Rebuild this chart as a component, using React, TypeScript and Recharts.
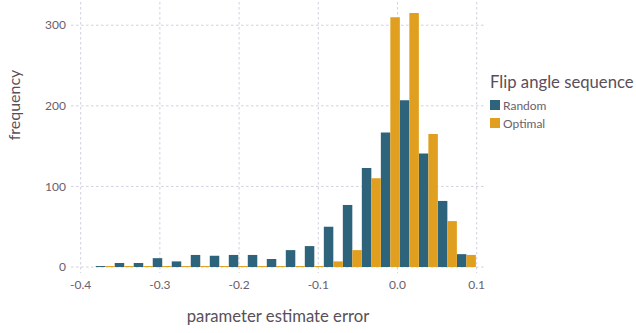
import React from 'react';
import { ComposedChart, Bar, XAxis, YAxis, CartesianGrid } from 'recharts';

const binCenters = [-0.369, -0.345, -0.321, -0.297, -0.273, -0.249, -0.225, -0.201, -0.177, -0.153, -0.129, -0.105, -0.081, -0.057, -0.033, -0.009, 0.015, 0.039, 0.063, 0.087];
const randomCounts = [1, 5, 5, 11, 7, 15, 14, 15, 15, 10, 21, 26, 50, 77, 123, 167, 207, 141, 82, 16];
const optimalCounts = [0, 0, 0, 0, 0, 0, 0, 0, 0, 0, 0, 1, 7, 21, 110, 310, 315, 165, 57, 15];
const xTicks = [-0.4, -0.3, -0.2, -0.1, 0, 0.1];
const yTicks = [0, 100, 200, 300];
const seriesNames = ['Random', 'Optimal'];
const seriesColors = ['#2e637c', '#e09f1e'];

const data = binCenters.map((c, i) => ({ center: c, Random: randomCounts[i], Optimal: optimalCounts[i] }));

const FONT = 'Lato, "Noto Sans", sans-serif';
const TICK_COLOR = '#6c606b';
const LABEL_COLOR = '#5a4f59';

const LegendBox = () => (
  <div style={{ position: 'absolute', left: 490, top: 72, fontFamily: FONT }}>
    <div style={{ fontSize: 16.7, color: LABEL_COLOR, lineHeight: '20px', marginBottom: 4, whiteSpace: 'nowrap' }}>Flip angle sequence</div>
    {seriesNames.map((n, i) => (
      <div key={n} style={{ display: 'flex', alignItems: 'center', height: 18 }}>
        <span style={{ width: 10, height: 10, background: seriesColors[i], display: 'inline-block', marginRight: 3 }} />
        <span style={{ fontSize: 12, color: TICK_COLOR }}>{n}</span>
      </div>
    ))}
  </div>
);

export default function App() {
  return (
    <div style={{ position: 'absolute', left: 0, top: 0, width: 636, height: 333, background: '#fff' }}>
      <ComposedChart width={636} height={333} data={data} margin={{ top: 2, right: 151, left: 0, bottom: 0 }} barGap={0} barCategoryGap={0}>
        <CartesianGrid stroke="#d0d0e0" strokeDasharray="2.5 2.5" syncWithTicks />
        <XAxis
          dataKey="center"
          type="number"
          domain={[-0.4122, 0.1105]}
          allowDataOverflow
          ticks={xTicks}
          tickFormatter={(v: number) => v.toFixed(1)}
          axisLine={false}
          tickLine={false}
          tickSize={0}
          tickMargin={7}
          height={60}
          tick={{ fill: TICK_COLOR, fontSize: 12, fontFamily: FONT }}
          label={{ value: 'parameter estimate error', position: 'insideBottom', offset: 11, fill: LABEL_COLOR, fontSize: 16.7, fontFamily: FONT }}
        />
        <YAxis
          type="number"
          domain={[-7.4, 328.8]}
          allowDataOverflow
          ticks={yTicks}
          axisLine={false}
          tickLine={false}
          tickSize={0}
          tickMargin={5}
          width={71}
          tick={{ fill: TICK_COLOR, fontSize: 12, fontFamily: FONT }}
          label={{
            content: () => (
              <text x={20} y={105} transform="rotate(-90 20 105)" textAnchor="middle" fill={LABEL_COLOR} fontSize={16} fontFamily={FONT}>
                frequency
              </text>
            ),
          }}
        />
        <Bar dataKey="Random" fill={seriesColors[0]} barSize={9.5} minPointSize={1} isAnimationActive={false} />
        <Bar dataKey="Optimal" fill={seriesColors[1]} barSize={9.5} minPointSize={1} isAnimationActive={false} />
      </ComposedChart>
      <LegendBox />
    </div>
  );
}
